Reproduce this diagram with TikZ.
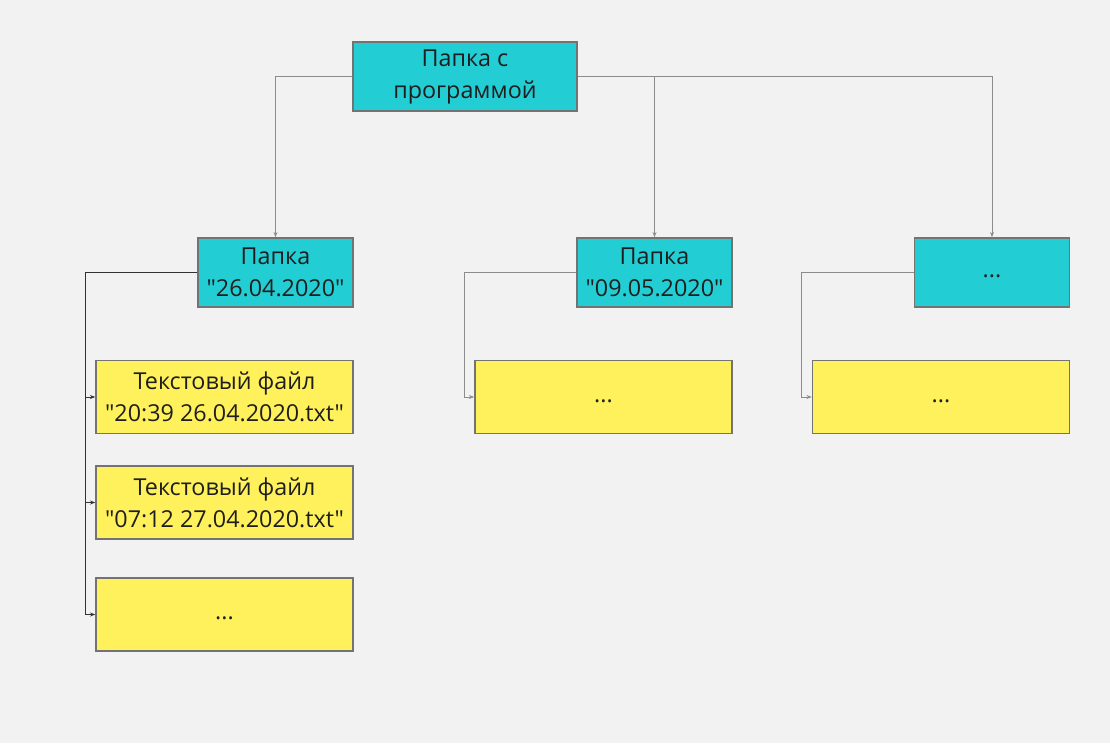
\documentclass[tikz,border=0pt]{standalone}
\usepackage{fontspec}
\setmainfont{Open Sans}[Ligatures=TeXOff]
\usetikzlibrary{arrows.meta}
\definecolor{canvas}{RGB}{242, 242, 242}
\definecolor{folder}{RGB}{35, 205, 212}
\definecolor{textfile}{RGB}{255, 241, 91}
\definecolor{frame}{RGB}{115, 115, 115}
\definecolor{wire}{RGB}{140, 140, 140}
\definecolor{darkwire}{RGB}{50, 50, 50}
\definecolor{ink}{RGB}{30, 30, 30}

\begin{document}
\begin{tikzpicture}[x=0.75pt, y=-0.75pt,
    box/.style={draw=frame, line width=1.1pt, text=ink, align=center, inner sep=0pt,
                font=\fontsize{17.5}{24}\selectfont},
    dir/.style={box, fill=folder, minimum width=116.25pt, minimum height=51.75pt},
    txt/.style={box, fill=textfile, minimum width=192.75pt, minimum height=54.75pt},
    more/.style={text height=12pt, text depth=4.5pt},
    link/.style={draw=wire, line width=0.75pt, -{Stealth[length=4pt, width=3pt]}}]
            \fill[canvas]                                   (   0.0,   0.0) rectangle (1110.0, 743.0);
            \useasboundingbox                               (   0.0,   0.0) rectangle (1110.0, 743.0);
            % folders
            \node[dir, minimum width=168pt] (prog)     at ( 465.0,  76.5) {Папка с\\программой};
            \node[dir]                      (day1)     at ( 275.5, 272.5) {Папка\\"26.04.2020"};
            \node[dir]                      (day2)     at ( 654.5, 272.5) {Папка\\"09.05.2020"};
            \node[dir, more]                (dayn)     at ( 992.0, 272.5) {...};
            % text files
            \node[txt]                      (file1)    at ( 224.5, 397.0) {Текстовый файл\\"20:39 26.04.2020.txt"};
            \node[txt]                      (file2)    at ( 224.5, 502.5) {Текстовый файл\\"07:12 27.04.2020.txt"};
            \node[txt, more]                (filen)    at ( 224.5, 614.5) {...};
            \node[txt, more]                (day2file) at ( 603.5, 397.0) {...};
            \node[txt, more]                (daynfile) at ( 941.0, 397.0) {...};
            % connectors
            \draw[link] (prog.west) -| (day1.north);
            \draw[link] (prog.east) -| (day2.north);
            \draw[link] (prog.east) -| (dayn.north);
            \draw[link, draw=darkwire] (day1.west) -| ([xshift=-7.5pt]file1.west) -- (file1.west);
            \draw[link, draw=darkwire] (day1.west) -| ([xshift=-7.5pt]file2.west) -- (file2.west);
            \draw[link, draw=darkwire] (day1.west) -| ([xshift=-7.5pt]filen.west) -- (filen.west);
            \draw[link] (day2.west) -| ([xshift=-7.5pt]day2file.west) -- (day2file.west);
            \draw[link] (dayn.west) -| ([xshift=-7.5pt]daynfile.west) -- (daynfile.west);
\end{tikzpicture}
\end{document}
